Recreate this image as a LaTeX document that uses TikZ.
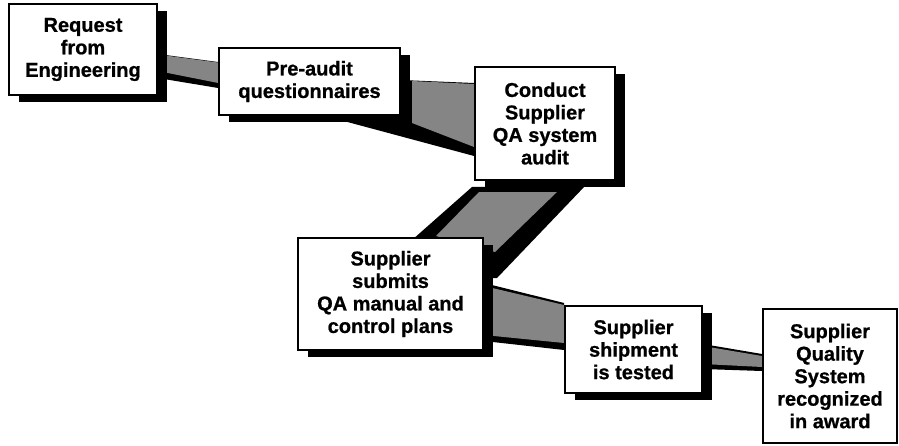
\documentclass[tikz,border=0pt]{standalone}
\usepackage{fontspec}
\setmainfont{Liberation Sans}[BoldFeatures={FakeBold=0.8}]
\usetikzlibrary{shadows,backgrounds}
\begin{document}
\begin{tikzpicture}[x=1pt,y=-1pt,
  basebox/.style={draw=black,line width=1.8pt,fill=white,align=center,inner sep=0pt,
    font=\fontsize{20}{22.5}\selectfont\bfseries},
  box/.style={basebox,
    drop shadow={shadow xshift=10pt,shadow yshift=-7pt,fill=black,opacity=1}},
  face/.style={fill=black!48},
  edgeface/.style={fill=black}]
\useasboundingbox (0,0) rectangle (899,445);

\node[box,minimum width=148pt,minimum height=91pt] (b1) at (83,49.5) {Request\\from\\Engineering};
\node[box,minimum width=181pt,minimum height=67pt] (b2) at (309.5,81.5) {Pre-audit\\questionnaires};
\node[box,minimum width=140pt,minimum height=113pt] (b3) at (545,123.5) {Conduct\\Supplier\\QA system\\audit};
\node[box,minimum width=185pt,minimum height=112pt] (b4) at (390.5,294) {Supplier\\submits\\QA manual and\\control plans};
\node[box,minimum width=137pt,minimum height=87pt] (b5) at (633.5,349.5) {Supplier\\shipment\\is tested};
\node[basebox,minimum width=134pt,minimum height=134pt] (b6) at (830,376) {Supplier\\Quality\\System\\recognized\\in award};

\begin{scope}[on background layer]
\fill[white] (0,0) rectangle (899,445);
% band 1
\fill[edgeface] (b1.east |- 0,54) -- (b2.west |- 0,62) -- (b2.west |- 0,88) -- (b1.east |- 0,78) -- cycle;
\fill[face] (b1.east |- 0,54.5) -- (b2.west |- 0,62.5) -- (b2.west |- 0,83) -- (b1.east |- 0,71) -- cycle;
% band 2
\fill[edgeface] (b2.east |- 0,80) -- (b3.west |- 0,83) -- (b3.west |- 0,156) -- (340,120) -- (b2.east |- 0,120) -- cycle;
\fill[face] (412,81) -- (b3.west |- 0,84) -- (b3.west |- 0,147) -- (412,123) -- cycle;
% band 3
\fill[edgeface] (b3.south west) ++(-2,6) -- (585,186) -- (497,278) -- (b4.east |- 0,278) -- (b4.north east) -- (412,240) -- cycle;
\fill[face] (479,192) -- (557,192) -- (495,252) -- (436,236) -- cycle;
% band 4
\fill[edgeface] (b4.east |- 0,283) -- (b5.west |- 0,303) -- (b5.west |- 0,350) -- (b4.east |- 0,341) -- cycle;
\fill[face] (b4.east |- 0,286) -- (b5.west |- 0,305) -- (b5.west |- 0,343) -- (b4.east |- 0,335) -- cycle;
% band 5
\fill[edgeface] (b5.east |- 0,344) -- (b6.west |- 0,354) -- (b6.west |- 0,371) -- (b5.east |- 0,369) -- cycle;
\fill[face] (b5.east |- 0,346) -- (b6.west |- 0,356) -- (b6.west |- 0,367) -- (b5.east |- 0,364) -- cycle;
\end{scope}
\end{tikzpicture}
\end{document}
